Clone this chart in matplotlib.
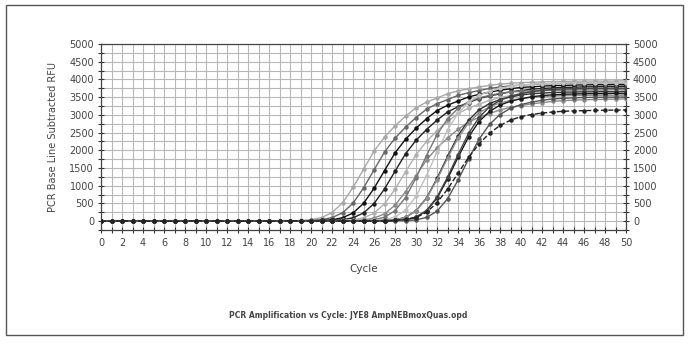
import matplotlib
matplotlib.use("Agg")
import matplotlib.pyplot as plt
from matplotlib.patches import Rectangle
from matplotlib.ticker import MultipleLocator

cycles = list(range(0, 51))

s1 = [0,5,-5,0,10,0,-5,5,0,0,10,-5,0,5,0,-5,10,0,5,
      20,40,100,240,515,950,1460,1975,2370,2690,2960,3200,3360,3475,3595,3675,3735,3790,3830,3870,3890,3910,3920,3930,3940,
      3945,3950,3950,3955,3950,3955,3960]
s2 = [5,0,0,-5,5,0,10,0,-5,0,5,0,0,-5,5,0,0,10,0,5,
      20,40,100,235,505,935,1445,1950,2340,2650,2925,3160,3315,3430,3550,3625,3685,3745,3785,3820,3840,3860,3875,3880,3890,
      3895,3900,3900,3905,3900,3905]
s3 = [0,-5,5,0,0,5,-5,0,10,0,0,-5,5,0,0,5,-5,0,5,0,10,
      20,40,95,230,500,925,1425,1925,2310,2620,2890,3120,3270,3390,3505,3580,3640,3695,3735,3775,3790,3810,3825,3830,3840,
      3845,3850,3850,3855,3850]
s4 = [5,0,-5,0,5,0,0,10,-5,0,5,0,-5,0,5,0,10,0,-5,0,5,0,
      20,40,95,230,495,910,1405,1900,2280,2585,2850,3080,3230,3345,3460,3535,3590,3650,3685,3725,3745,3760,3775,3780,3790,
      3795,3800,3800,3805]
s5 = [0,5,0,-5,0,0,5,-5,0,10,0,0,5,-5,0,0,5,0,-5,10,0,5,0,
      20,35,95,225,490,900,1390,1875,2250,2550,2810,3040,3190,3300,3410,3490,3545,3600,3640,3675,3695,3710,3725,3730,3740,
      3745,3750,3750]
s6 = [0,0,5,-5,0,5,0,0,-5,10,0,5,0,-5,0,0,5,0,10,-5,0,5,0,0,5,
      20,35,110,295,665,1220,1850,2440,2885,3180,3365,3480,3550,3610,3645,3665,3680,
      3690,3695,3700,3700,3705,3700,3705,3710,3705]
s7 = [5,0,-5,0,0,5,0,10,-5,0,0,5,0,-5,5,0,0,10,0,-5,0,5,0,0,-5,5,
      20,40,115,310,700,1285,1950,2575,3040,3355,3550,3665,3745,3805,3840,3860,3880,
      3890,3895,3900,3900,3905,3900,3905,3910]
s8 = [0,5,0,0,-5,5,0,0,10,0,-5,0,5,0,0,-5,10,0,5,0,0,-5,5,0,10,0,5,
      20,35,110,290,655,1205,1825,2410,2845,3140,3320,3430,3505,3560,3595,3615,3630,
      3640,3645,3650,3650,3655,3650,3655]
s9 = [5,0,0,-5,0,5,0,-5,0,5,10,0,0,-5,5,0,0,5,-5,0,10,0,5,0,-5,0,5,
      15,35,105,285,640,1170,1775,2345,2770,3055,3230,3335,3410,3460,3495,3515,3530,
      3540,3545,3550,3550,3555,3550,3555]
s10 = [0,0,5,-5,0,5,0,10,0,-5,0,5,0,0,-5,5,0,10,0,0,-5,5,0,0,5,-5,0,5,
       20,35,110,290,650,1190,1800,2375,2810,3095,3275,3385,3455,3510,3545,3565,3580,
       3590,3595,3600,3600,3605,3600]
s11 = [5,0,0,5,-5,0,0,10,0,5,-5,0,0,5,0,-5,0,10,5,0,0,-5,0,5,0,10,0,-5,
       20,40,115,300,675,1240,1875,2475,2925,3225,3410,3525,3600,3655,3695,3715,3730,
       3740,3745,3750,3750,3755,3750]
s12 = [0,5,0,-5,0,0,5,0,10,-5,0,0,5,0,-5,0,5,0,10,0,0,-5,5,0,0,5,-5,0,10,
       15,35,105,280,630,1155,1750,2310,2730,3010,3185,3290,3360,3410,3450,3465,3480,
       3490,3495,3500,3500,3505]
s13 = [0,-5,5,0,0,5,0,-5,0,10,0,0,5,-5,0,5,0,0,10,-5,0,5,0,0,-5,5,0,0,
       20,50,100,250,520,900,1350,1800,2180,2480,2700,2850,2950,3010,3050,3080,3100,3110,3120,3125,3130,3135,3140]
s14 = [5,0,0,-5,5,0,0,5,-5,0,0,10,0,-5,5,0,0,5,-5,0,5,0,0,10,
       15,35,85,205,450,830,1275,1725,2070,2345,2590,2795,2930,3035,3140,3210,3260,3310,3345,3380,3400,3415,3425,3435,3440,
       3445,3450]

series = [s1, s2, s3, s4, s5, s14, s6, s7, s8, s9, s10, s11, s12, s13]
colors = ['#a8a8a8', '#666666', '#111111', '#222222', '#b0b0b0', '#8a8a8a', '#777777',
          '#c0c0c0', '#333333', '#909090', '#1a1a1a', '#444444', '#555555', '#222222']
styles = ['-'] * 13 + ['--']

y_ticks = [0, 500, 1000, 1500, 2000, 2500, 3000, 3500, 4000, 4500, 5000]
x_ticks = list(range(0, 51, 2))

title = "PCR Amplification vs Cycle: JYE8 AmpNEBmoxQuas.opd"
xlabel = "Cycle"
ylabel = "PCR Base Line Subtracted RFU"

plt.rcParams['font.family'] = ['Liberation Sans Narrow', 'DejaVu Sans']

fig = plt.figure(figsize=(6.88, 3.59), dpi=100)
fig.patch.set_facecolor('white')

# outer frame
fig.add_artist(Rectangle((6/688, 1 - 335/359), 677/688, 330/359, transform=fig.transFigure,
                         fill=False, edgecolor='#555555', lw=1.0))

ax = fig.add_axes([101/688, 1 - 230/359, 525/688, 186/359])
for s, c, ls in zip(series, colors, styles):
    ax.plot(cycles, s, color=c, lw=1.0, ls=ls, marker='o', ms=2.2, mec=c, mfc=c, zorder=3)

ax.set_xlim(0, 50)
ax.set_ylim(-250, 5000)
ax.grid(True, which='major', color='#b8b8b8', lw=0.8, zorder=0)
ax.set_xticks(cycles)
ax.set_xticklabels([str(c) if c in x_ticks else '' for c in cycles])
yt = list(range(-250, 5001, 250))
ax.set_yticks(yt)
ax.set_yticklabels([str(v) if v in y_ticks else '' for v in yt])
ax.tick_params(axis='both', direction='inout', length=4, width=0.8, color='#333333',
               labelsize=7, labelcolor='#444444')
ax.tick_params(axis='y', right=True, labelright=True, pad=3)
for sp in ax.spines.values():
    sp.set_color('#444444')
    sp.set_linewidth(0.9)

ax.set_xlabel(xlabel, fontsize=7.5, color='#444444', labelpad=12)
ax.set_ylabel(ylabel, fontsize=7, color='#444444', labelpad=8)

fig.text(348/688, 1 - 316/359, title, fontsize=5.5, color='#444444', ha='center', va='center',
         fontweight='bold')

fig.savefig('out.png', dpi=100, facecolor='white')
